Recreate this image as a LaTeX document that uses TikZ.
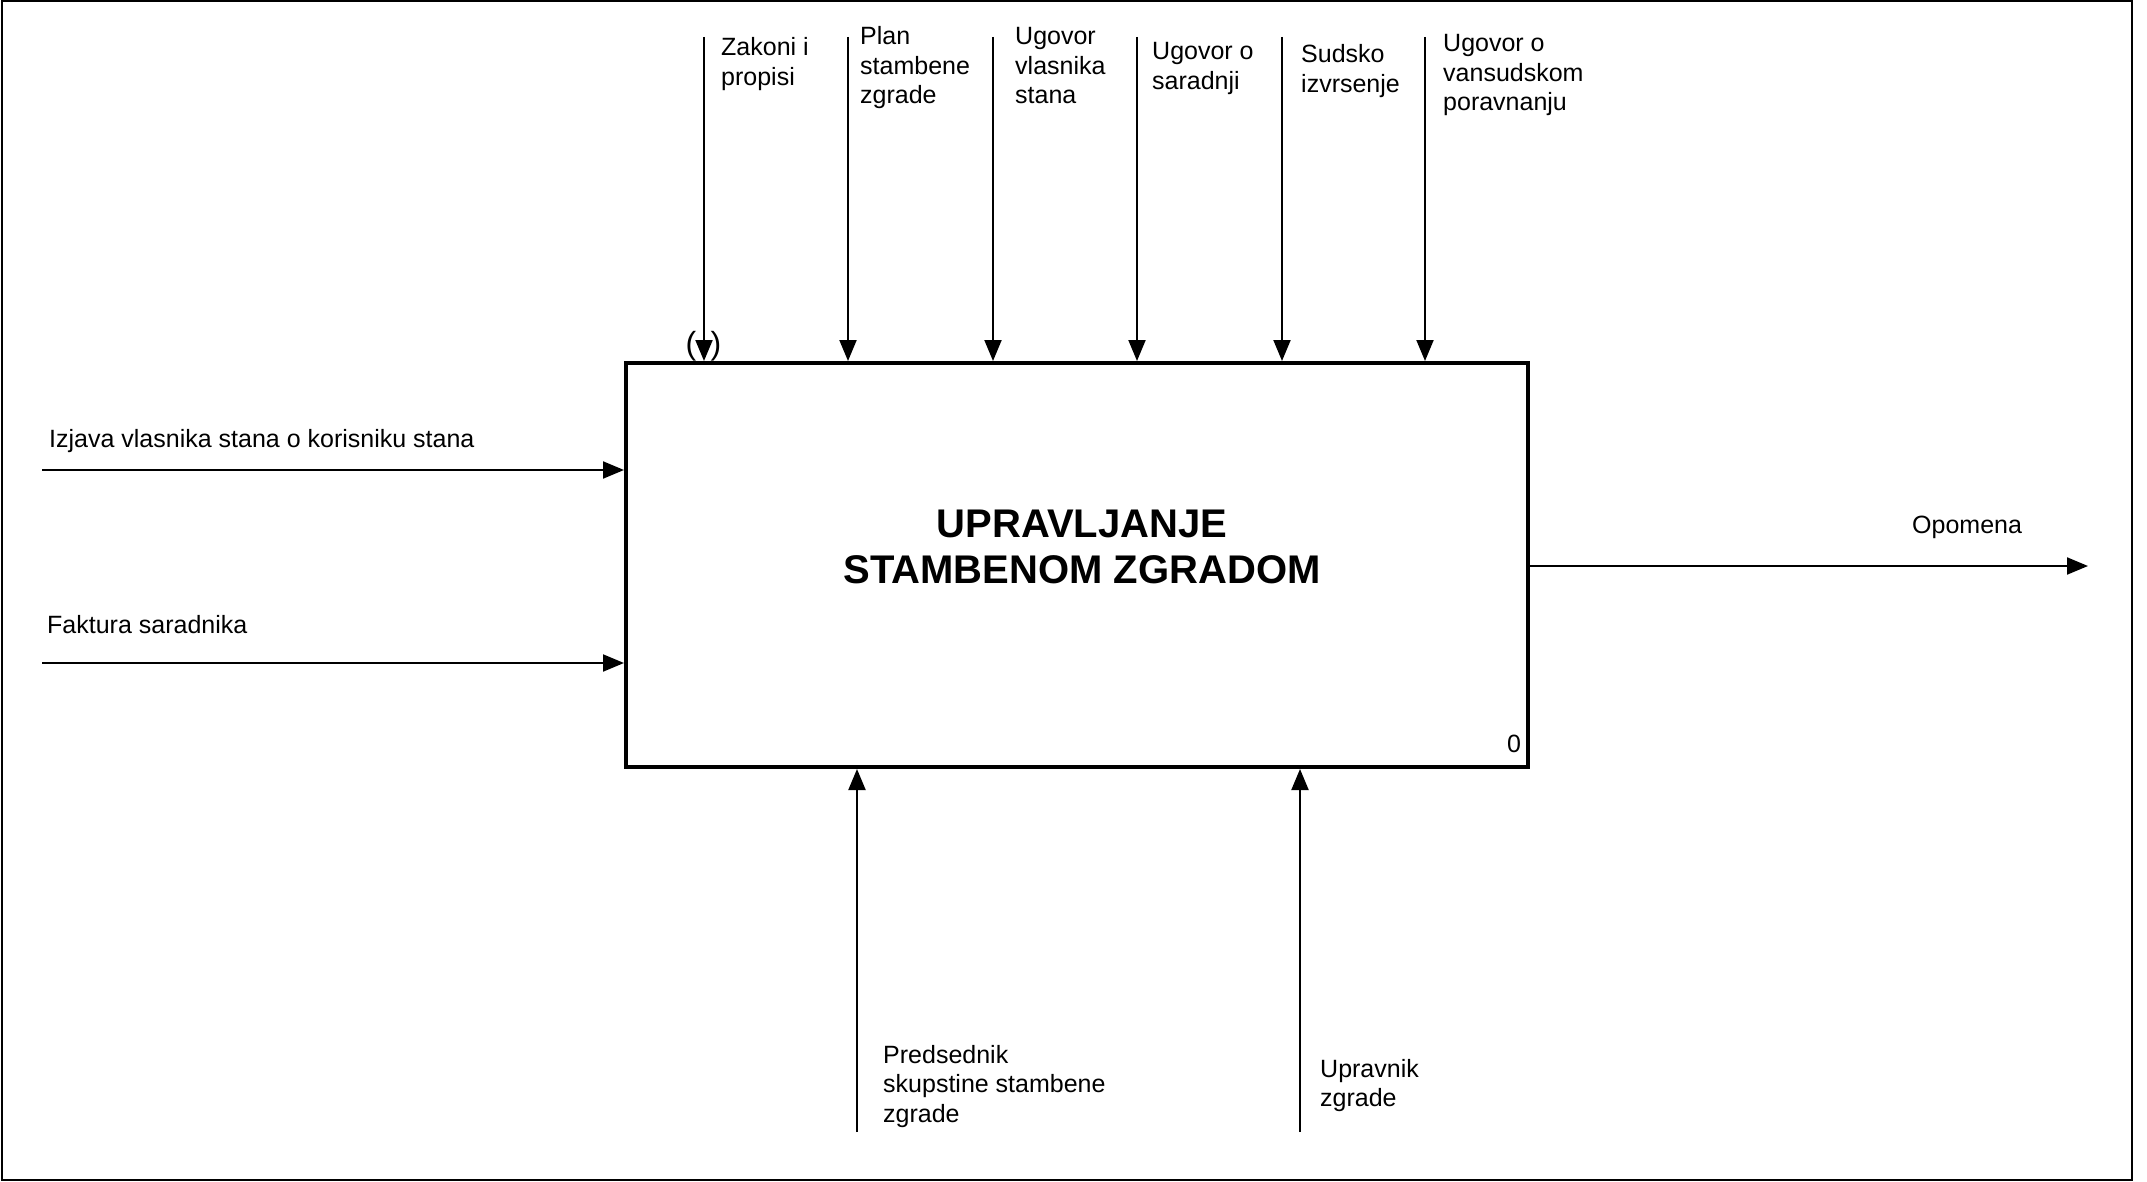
\documentclass[tikz,border=0pt]{standalone}
\usepackage{fontspec}
\setmainfont{Liberation Sans}
\usetikzlibrary{arrows.meta}
\newcommand{\lbl}[1]{\begin{tabular}[t]{@{}l@{}}#1\end{tabular}}
\begin{document}
\begin{tikzpicture}[x=1pt,y=-1pt,
  lab/.style={inner sep=0pt,anchor=base west,font=\fontsize{25}{29.5}\selectfont},
  arr/.style={line width=2pt,-{Triangle[length=21pt,width=17pt]}},
  frame/.style={line width=2pt},
  proc/.style={draw,line width=4pt,minimum width=902pt,minimum height=404pt,inner sep=0pt}]
\useasboundingbox (0,0) rectangle (2147,1182);
\draw[frame] (2,1) rectangle (2132,1180);
\node[proc] (box) at (1077,565) {};
\node[inner sep=0pt,anchor=base,font=\fontsize{40}{46}\selectfont\bfseries] (title) at (1082,537)
  {\begin{tabular}[t]{@{}c@{}}UPRAVLJANJE\\STAMBENOM ZGRADOM\end{tabular}};
\node[lab] (num) at (1507,752) {0};
% controls
\coordinate (t1) at (704,37);
\coordinate (t2) at (848,37);
\coordinate (t3) at (993,37);
\coordinate (t4) at (1137,37);
\coordinate (t5) at (1282,37);
\coordinate (t6) at (1425,37);
\foreach \c in {t1,t2,t3,t4,t5,t6} \draw[arr] (\c) -- (\c |- box.north);
\node[lab] (l1) at (721,56) {\lbl{Zakoni i\\propisi}};
\node[lab] (l2) at (860,45) {\lbl{Plan\\stambene\\zgrade}};
\node[lab] (l3) at (1015,45) {\lbl{Ugovor\\vlasnika\\stana}};
\node[lab] (l4) at (1152,60) {\lbl{Ugovor o\\saradnji}};
\node[lab] (l5) at (1301,63) {\lbl{Sudsko\\izvrsenje}};
\node[lab] (l6) at (1443,52) {\lbl{Ugovor o\\vansudskom\\poravnanju}};
\node[inner sep=0pt,font=\fontsize{32}{36}\selectfont] (pl) at (691,346) {(};
\node[inner sep=0pt,font=\fontsize{32}{36}\selectfont] (pr) at (716,346) {)};
% inputs
\coordinate (i1) at (42,470);
\coordinate (i2) at (42,663);
\draw[arr] (i1) -- (i1 -| box.west);
\draw[arr] (i2) -- (i2 -| box.west);
\node[lab] (li1) at (49,447) {Izjava vlasnika stana o korisniku stana};
\node[lab] (li2) at (47,633) {Faktura saradnika};
% output
\coordinate (o1) at (2088,566);
\draw[arr] (o1 -| box.east) -- (o1);
\node[lab] (lo1) at (1912,533) {Opomena};
% mechanisms
\coordinate (m1) at (857,1132);
\coordinate (m2) at (1300,1132);
\draw[arr] (m1) -- (m1 |- box.south);
\draw[arr] (m2) -- (m2 |- box.south);
\node[lab] (lm1) at (883,1063) {\lbl{Predsednik\\skupstine stambene\\zgrade}};
\node[lab] (lm2) at (1320,1077) {\lbl{Upravnik\\zgrade}};
\end{tikzpicture}
\end{document}
